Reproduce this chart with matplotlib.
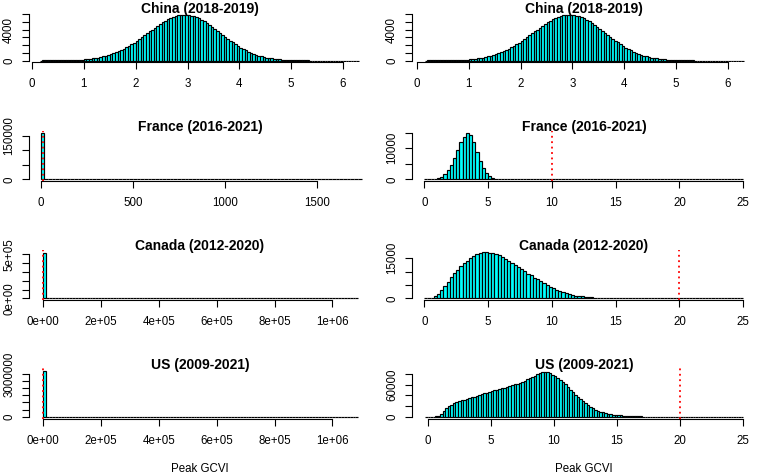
import numpy as np
import matplotlib
matplotlib.use('Agg')
import matplotlib.pyplot as plt

plt.rcParams['font.family'] = ['Liberation Sans', 'DejaVu Sans']

# ---------------- data ----------------
titles = ["China (2018-2019)", "France (2016-2021)", "Canada (2012-2020)", "US (2009-2021)"]
xlabel_text = "Peak GCVI"

china_start, china_width = 0.15, 0.05
china_counts = [25, 27, 29, 31, 33, 36, 40, 44, 50, 56,
                64, 73, 84, 97, 112, 130, 152, 178, 210, 248,
                293, 345, 405, 474, 552, 640, 738, 846, 965, 1095,
                1236, 1388, 1550, 1722, 1905, 2100, 2310, 2530, 2761, 3004,
                3251, 3503, 3755, 4004, 4250, 4489, 4717, 4932, 5131, 5313,
                5474, 5650, 5760, 5809, 5867, 5896,
                5896, 5864, 5801, 5708, 5585, 5437, 5263, 5067, 4853, 4623,
                4380, 4127, 3867, 3605, 3342, 3081, 2826, 2578, 2339, 2111,
                1894, 1691, 1502, 1326, 1165, 1017, 884, 764, 657, 561,
                477, 404, 339, 284, 236, 196, 161, 132, 107, 87,
                70, 56, 48, 42, 37, 33, 29, 26, 23, 21,
                19, 17, 15, 14, 13, 12, 11, 10, 9, 8,
                7, 6, 5, 5, 4, 4, 3]

france_raw_start, france_raw_width = 0, 20
france_raw_counts = [160000, 60, 12, 5, 3, 2, 1, 1] + [0] * 78 + [1]

france_start, france_width = 0, 0.25
france_counts = [0, 10, 50, 150, 380, 880, 1750, 3050, 4700, 6800,
                 9300, 11800, 13700, 14750, 14300, 12000, 8800, 5900, 3600, 2000,
                 1000, 480, 220, 110, 70, 50, 35, 25, 18, 14,
                 11, 9, 7, 6, 5, 4, 4, 3, 3, 3,
                 2, 2, 2, 2, 2, 2] + [1] * 14 + [0] * 40

canada_raw_start, canada_raw_width = 0, 10000
canada_raw_counts = [518000, 3, 1] + [0] * 105 + [1]

canada_start, canada_width = 0, 0.25
canada_counts = [0, 40, 200, 700, 1700, 3100, 4700, 6300, 7900, 9400,
                 10800, 12000, 13100, 14100, 15000, 15800, 16500, 17000, 17200, 17250,
                 17100, 16900, 16500, 16100, 15600, 14900, 14100, 13300, 12500, 11700,
                 10900, 10100, 9300, 8600, 7800, 7100, 6400, 5700, 5000, 4400,
                 3800, 3300, 2800, 2300, 1900, 1600, 1300, 1050, 850, 700,
                 560, 450, 360, 290, 230, 190,
                 155, 130, 110, 95, 82, 72, 63, 56, 50, 45,
                 41, 37, 34, 31, 28, 26, 24, 22, 20, 19,
                 18, 17, 16, 15, 14, 13, 12, 11, 10, 10,
                 9, 9, 8, 8, 7, 7, 6, 6, 5, 5, 5, 4, 4, 4]

us_raw_start, us_raw_width = 0, 10000
us_raw_counts = [3200000, 5, 2, 1] + [0] * 104 + [1]

us_start, us_width = -0.2, 0.2
us_counts = [0, 0, 80, 350, 1000, 2200, 5200, 10500, 15500, 19500,
             22800, 25300, 27300, 29000, 30600, 32100, 33500, 35000, 36400, 37800,
             39200, 40600, 42000, 43500, 44900, 46300, 47700, 49100, 50500, 51900,
             53300, 54700, 56100, 57500, 59000, 60500, 62000, 63700, 65500, 67500,
             69700, 72000, 74500, 77000, 79500, 81800, 83500, 84600, 83600,
             81000, 78500, 75500, 72000, 68500, 64800, 60500, 55800, 50800, 46000,
             41300, 36800, 32600, 28600, 25000, 21600, 18500, 15800, 13300, 11300,
             9500, 8100, 6900, 5800, 4900, 4100, 3400, 2800, 2300, 1900,
             1550, 1250, 1000, 800, 650, 520, 420, 340, 280, 230,
             190, 160, 135, 115, 100, 88, 78, 70, 62, 56,
             50, 45, 41, 37, 34, 31, 28, 26, 24, 22,
             20, 18, 17, 16, 15, 14, 13, 12, 11, 10,
             10, 9, 9, 8, 8, 7, 7]

thresholds = {"France": 10, "Canada": 20, "US": 20}

# tick definitions
china_xticks = [0, 1, 2, 3, 4, 5, 6]
china_xlabels = ["0", "1", "2", "3", "4", "5", "6"]
china_yticks = [0, 1000, 2000, 3000, 4000, 5000, 6000]
china_ylabels = ["0", "", "", "", "4000", "", ""]

france_raw_xticks = [0, 500, 1000, 1500]
france_raw_xlabels = ["0", "500", "1000", "1500"]
france_raw_yticks = [0, 50000, 100000, 150000]
france_raw_ylabels = ["0", "", "", "150000"]

gcvi_xticks = [0, 5, 10, 15, 20, 25]
gcvi_xlabels = ["0", "5", "10", "15", "20", "25"]
france_yticks = [0, 5000, 10000, 15000]
france_ylabels = ["0", "", "10000", ""]

raw_xticks = [0, 200000, 400000, 600000, 800000, 1000000]
raw_xlabels = ["0e+00", "2e+05", "4e+05", "6e+05", "8e+05", "1e+06"]
canada_raw_yticks = [0, 100000, 200000, 300000, 400000, 500000]
canada_raw_ylabels = ["0e+00", "", "", "", "", "5e+05"]
canada_yticks = [0, 5000, 10000, 15000]
canada_ylabels = ["0", "", "", "15000"]

us_raw_yticks = [0, 500000, 1000000, 1500000, 2000000, 2500000, 3000000]
us_raw_ylabels = ["0", "", "", "", "", "", "3000000"]
us_yticks = [0, 20000, 40000, 60000, 80000]
us_ylabels = ["0", "", "", "60000", ""]

# ---------------- layout ----------------
W, H = 770, 475
fig = plt.figure(figsize=(W / 100, H / 100), dpi=100)

BAR_FILL = '#00FFFF'
ROW_STEP = 118.75


def make_panel(col, row, start, width, counts, xmap, ymap,
               xticks, xlabels, yticks, ylabels, title, vline=None):
    L = 29 if col == 0 else 412
    R = 371 if col == 0 else 756
    B = 62.3 + ROW_STEP * row
    T = 12.2 + ROW_STEP * row
    ax = fig.add_axes([L / W, 1 - B / H, (R - L) / W, (B - T) / H])
    pxa, va, pxb, vb = xmap
    s = (vb - va) / (pxb - pxa)
    ax.set_xlim(va + (L - pxa) * s, va + (R - pxa) * s)
    pya, ya, pyb, yb = ymap
    t = (yb - ya) / (pyb - pya)
    ax.set_ylim(ya + (B - pya) * t, ya + (T - pya) * t)

    counts = np.asarray(counts, dtype=float)
    edges = start + width * np.arange(len(counts) + 1)
    ax.bar(edges[:-1], counts, width=width, align='edge', color=BAR_FILL,
           edgecolor='black', linewidth=0.85)
    if vline is not None:
        ax.axvline(vline, color='red', linestyle=(0, (1, 2)), linewidth=1.3)

    for sp in ['top', 'right']:
        ax.spines[sp].set_visible(False)
    ax.spines['left'].set_bounds(yticks[0], yticks[-1])
    ax.spines['bottom'].set_bounds(xticks[0], xticks[-1])
    for sp in ['left', 'bottom']:
        ax.spines[sp].set_linewidth(0.8)
    ax.set_xticks(xticks)
    ax.set_xticklabels(xlabels, fontsize=8.3)
    ax.set_yticks(yticks)
    ax.set_yticklabels(ylabels, fontsize=8.3, rotation=90, va='center')
    ax.tick_params(axis='both', direction='out', length=5, width=0.8)
    ax.tick_params(axis='x', pad=6.5)
    ax.tick_params(axis='y', pad=5)
    ax.patch.set_visible(False)

    cx = (L + R) / 2
    fig.text(cx / W, 1 - (T + 0.3) / H, title, ha='center', va='baseline',
             fontsize=10, fontweight='bold')
    return ax


# China
for col in (0, 1):
    off = 385 * col
    make_panel(col, 0, china_start, china_width, china_counts,
               (32 + off, 0, 343 + off, 6), (60.7, 0, 14.0, 6000),
               china_xticks, china_xlabels, china_yticks, china_ylabels, titles[0])

# France
make_panel(0, 1, france_raw_start, france_raw_width, france_raw_counts,
           (40.7, 0, 317.3, 1500), (179.3, 0, 136.0, 150000),
           france_raw_xticks, france_raw_xlabels, france_raw_yticks, france_raw_ylabels,
           titles[1], vline=thresholds["France"])
make_panel(1, 1, france_start, france_width, france_counts,
           (424.3, 0, 743.3, 25), (179.3, 0, 132.5, 15000),
           gcvi_xticks, gcvi_xlabels, france_yticks, france_ylabels,
           titles[1], vline=thresholds["France"])

# Canada
make_panel(0, 2, canada_raw_start, canada_raw_width, canada_raw_counts,
           (43.3, 0, 332.3, 1000000), (298.3, 0, 254.3, 500000),
           raw_xticks, raw_xlabels, canada_raw_yticks, canada_raw_ylabels,
           titles[2], vline=thresholds["Canada"])
make_panel(1, 2, canada_start, canada_width, canada_counts,
           (424.3, 0, 743.3, 25), (298.3, 0, 258.3, 15000),
           gcvi_xticks, gcvi_xlabels, canada_yticks, canada_ylabels,
           titles[2], vline=thresholds["Canada"])

# US
make_panel(0, 3, us_raw_start, us_raw_width, us_raw_counts,
           (43.3, 0, 332.3, 1000000), (416.7, 0, 374.0, 3000000),
           raw_xticks, raw_xlabels, us_raw_yticks, us_raw_ylabels,
           titles[3], vline=thresholds["US"])
make_panel(1, 3, us_start, us_width, us_counts,
           (427.7, 0, 743.3, 25), (416.7, 0, 374.0, 80000),
           gcvi_xticks, gcvi_xlabels, us_yticks, us_ylabels,
           titles[3], vline=thresholds["US"])

fig.text(200 / W, 1 - 472 / H, xlabel_text, ha='center', va='baseline', fontsize=8.3)
fig.text(584 / W, 1 - 472 / H, xlabel_text, ha='center', va='baseline', fontsize=8.3)

fig.savefig('out.png', dpi=100)
